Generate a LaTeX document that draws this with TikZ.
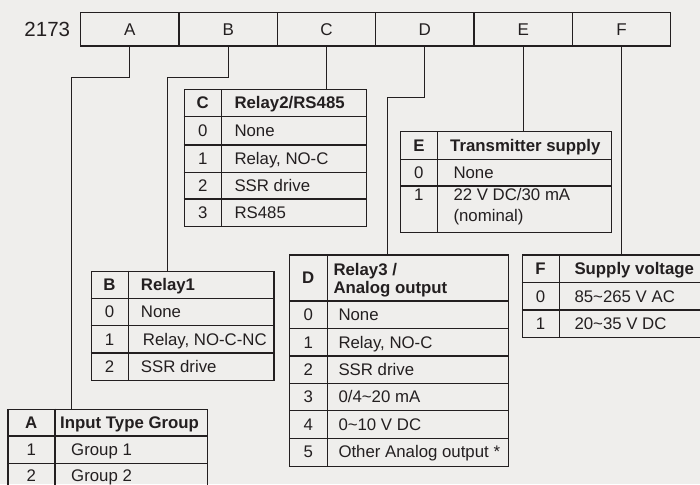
\documentclass[tikz,border=0pt]{standalone}
\usepackage{fontspec}
\setmainfont{Liberation Sans}
\definecolor{bg}{RGB}{239,238,236}
\definecolor{ink}{RGB}{35,31,32}
\begin{document}
\begin{tikzpicture}[x=1pt,y=-1pt,
  topbox/.style={draw=ink, line width=1.1pt, minimum width=98.33pt, minimum height=33.3pt, inner sep=0, text=ink, font=\fontsize{17}{20}\selectfont},
  tbl/.style={draw=ink, line width=1.2pt, anchor=north west, inner sep=0},
  grid/.style={draw=ink, line width=1.2pt},
  conn/.style={draw=ink, line width=1.1pt},
  num/.style={anchor=base, inner sep=0, text=ink, font=\fontsize{16.8}{18}\selectfont},
  numh/.style={num, font=\fontsize{16.8}{18}\selectfont\bfseries},
  txt/.style={anchor=base west, inner sep=0, text=ink, font=\fontsize{16.8}{18}\selectfont},
  hd/.style={txt, font=\fontsize{16.8}{18}\selectfont\bfseries}]
\useasboundingbox (0,0) rectangle (700,484);
\fill[bg] (0,0) rectangle (700,484);
\clip (0,0) rectangle (700,484);

% code row
\node[anchor=base east, inner sep=0, text=ink, font=\fontsize{20.5}{24}\selectfont] (code) at (70.3,36.7) {2173};
\foreach \l [count=\i] in {A,B,C,D,E,F}
  \node[topbox] (b\l) at ({80.7+98.33*(\i-0.5)},29.35) {\l};

% junction points on tables
\coordinate (jA) at (71.7,408.7);
\coordinate (jB) at (167.7,270.7);
\coordinate (jC) at (326.7,89.3);
\coordinate (jD) at (387.7,254.3);
\coordinate (jE) at (523,131);
\coordinate (jF) at (621.7,254.3);

% connectors
\draw[conn] (bA.south) -- ++(0,30.7) -| (jA);
\draw[conn] (bB.south) -- ++(0,30.7) -| (jB);
\draw[conn] (bC.south) -- (bC.south |- jC);
\draw[conn] (bD.south) -- ++(0,50.7) -| (jD);
\draw[conn] (bE.south) -- (bE.south |- jE);
\draw[conn] (bF.south) -- (bF.south |- jF);

% ---- Table C
\node[tbl, minimum width=182pt, minimum height=136.7pt] (tC) at (183.7,89.3) {};
\draw[grid] (221.7,89.3) -- (221.7,226);
\foreach \y in {116.7,145,172.3,199} \draw[grid] (183.7,\y) -- (365.7,\y);
\node[numh] (cCh) at (202.7,108.9) {C};
\node[hd] (xCh) at (234.3,108.9) {Relay2/RS485};
\node[num] (cC0) at (202.7,136.7) {0};
\node[txt] (xC0) at (234.3,136.7) {None};
\node[num] (cC1) at (202.7,164.6) {1};
\node[txt] (xC1) at (234.3,164.6) {Relay, NO-C};
\node[num] (cC2) at (202.7,191.6) {2};
\node[txt] (xC2) at (234.3,191.6) {SSR drive};
\node[num] (cC3) at (202.7,218.4) {3};
\node[txt] (xC3) at (234.3,218.4) {RS485};

% ---- Table E
\node[tbl, minimum width=211pt, minimum height=100.7pt] (tE) at (400,131) {};
\draw[grid] (437.7,131) -- (437.7,231.7);
\foreach \y in {159.3,186} \draw[grid] (400,\y) -- (611,\y);
\node[numh] (cEh) at (418.9,151.1) {E};
\node[hd] (xEh) at (450,151.1) {Transmitter supply};
\node[num] (cE0) at (418.9,178.6) {0};
\node[txt] (xE0) at (453.3,178.6) {None};
\node[num] (cE1) at (418.9,200.5) {1};
\node[txt] (xE1) at (453.3,200.5) {22 V DC/30 mA};
\node[txt] (xE1b) at (453.3,221.5) {(nominal)};

% ---- Table B
\node[tbl, minimum width=182.6pt, minimum height=109.3pt] (tB) at (90.7,270.7) {};
\draw[grid] (128.3,270.7) -- (128.3,380);
\foreach \y in {298.3,325.7,353} \draw[grid] (90.7,\y) -- (273.3,\y);
\node[numh] (cBh) at (109.5,290.4) {B};
\node[hd] (xBh) at (140.7,290.4) {Relay1};
\node[num] (cB0) at (109.5,317.9) {0};
\node[txt] (xB0) at (140.7,317.9) {None};
\node[num] (cB1) at (109.5,345.2) {1};
\node[txt] (xB1) at (142.7,345.2) {Relay, NO-C-NC};
\node[num] (cB2) at (109.5,372.4) {2};
\node[txt] (xB2) at (140.7,372.4) {SSR drive};

% ---- Table D
\node[tbl, minimum width=218.7pt, minimum height=211.4pt] (tD) at (289,254.3) {};
\draw[grid] (327.3,254.3) -- (327.3,465.7);
\foreach \y in {301,328.7,356,383.3,410.7,438.3} \draw[grid] (289,\y) -- (507.7,\y);
\node[numh] (cDh) at (308.2,283.6) {D};
\node[hd] (xDh) at (333.3,275) {Relay3 /};
\node[hd] (xDhb) at (333.3,293.3) {Analog output};
\node[num] (cD0) at (308.2,320.7) {0};
\node[txt] (xD0) at (338.3,320.7) {None};
\node[num] (cD1) at (308.2,348.2) {1};
\node[txt] (xD1) at (338.3,348.2) {Relay, NO-C};
\node[num] (cD2) at (308.2,375.6) {2};
\node[txt] (xD2) at (338.3,375.6) {SSR drive};
\node[num] (cD3) at (308.2,402.9) {3};
\node[txt] (xD3) at (338.3,402.9) {0/4\textasciitilde20 mA};
\node[num] (cD4) at (308.2,430.4) {4};
\node[txt] (xD4) at (338.3,430.4) {0\textasciitilde10 V DC};
\node[num] (cD5) at (308.2,457.9) {5};
\node[txt] (xD5) at (338.3,457.9) {Other Analog output *};

% ---- Table F
\node[tbl, minimum width=183.3pt, minimum height=82.4pt] (tF) at (521.7,254.3) {};
\draw[grid] (559.3,254.3) -- (559.3,336.7);
\foreach \y in {282.3,310} \draw[grid] (521.7,\y) -- (705,\y);
\node[numh] (cFh) at (540.5,274.2) {F};
\node[hd] (xFh) at (574.3,274.2) {Supply voltage};
\node[num] (cF0) at (540.5,302.1) {0};
\node[txt] (xF0) at (574.3,302.1) {85\textasciitilde265 V AC};
\node[num] (cF1) at (540.5,329.2) {1};
\node[txt] (xF1) at (574.3,329.2) {20\textasciitilde35 V DC};

% ---- Table A
\node[tbl, minimum width=199.4pt, minimum height=81.9pt] (tA) at (7.3,408.7) {};
\draw[grid] (55,408.7) -- (55,490.6);
\foreach \y in {436,463.3} \draw[grid] (7.3,\y) -- (206.7,\y);
\node[numh] (cAh) at (31.2,428.2) {A};
\node[hd] (xAh) at (60,428.2) {Input Type Group};
\node[num] (cA1) at (31.2,455.6) {1};
\node[txt] (xA1) at (71,455.6) {Group 1};
\node[num] (cA2) at (31.2,481.5) {2};
\node[txt] (xA2) at (71,481.5) {Group 2};
\end{tikzpicture}
\end{document}
